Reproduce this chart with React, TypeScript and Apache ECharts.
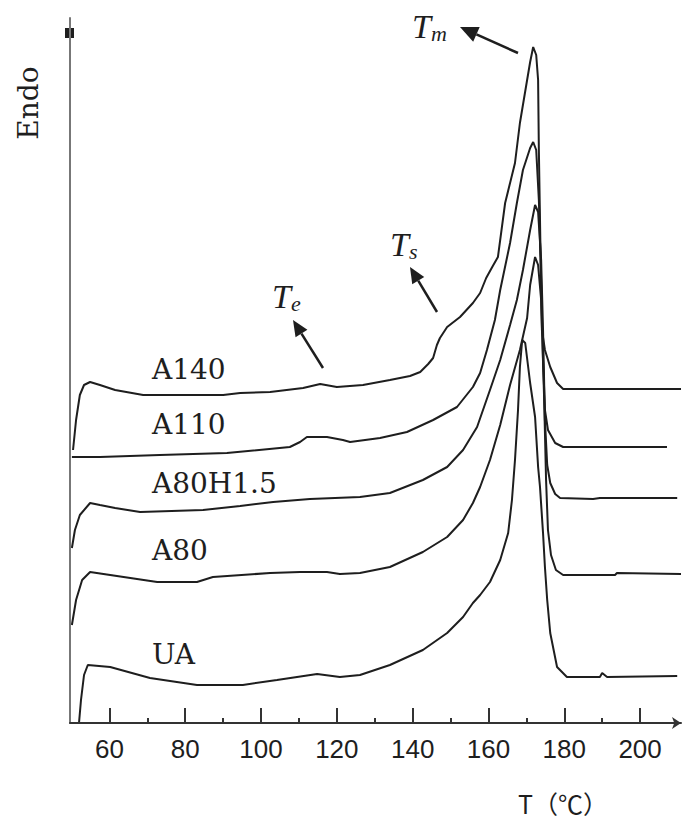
import React, { useEffect, useRef } from "react";
import * as echarts from "echarts";

// Temperature (°C) and heat flow (arbitrary units, endo up) for each DSC trace
const T_A140 = [50.4, 51.2, 52.2, 53.3, 54.9, 57.5, 61.5, 68.9, 78.6, 90.0, 94.5, 102.4, 111.1, 115.6, 120.0, 126.9, 134.0, 139.3, 142.0, 144.1, 145.4, 146.4, 147.2, 149.1, 152.5, 155.9, 157.8, 159.4, 161.0, 162.5, 164.4, 167.0, 168.3, 170.2, 171.0, 171.8, 172.6, 173.1, 173.3, 173.6, 173.9, 174.1, 174.9, 176.3, 178.1, 179.7, 210.8];
const Y_A140 = [273, 303, 328, 338, 341, 338, 333, 328, 328, 328, 330, 331, 335, 339, 336, 338, 343, 347, 351, 359, 365, 378, 385, 396, 406, 420, 430, 445, 456, 466, 520, 560, 600, 643, 661, 676, 668, 643, 573, 503, 433, 393, 373, 356, 340, 334, 334];

const T_A110 = [50.1, 57.5, 73.3, 91.0, 107.6, 110.3, 112.1, 117.4, 121.6, 123.5, 131.4, 138.5, 145.4, 151.7, 155.9, 157.8, 159.6, 161.7, 163.1, 165.7, 167.5, 169.1, 171.0, 171.8, 172.6, 173.3, 173.9, 174.4, 174.9, 175.7, 177.6, 179.7, 207.1];
const Y_A110 = [266, 266, 268, 270, 276, 281, 286, 286, 283, 281, 285, 291, 303, 316, 336, 350, 373, 403, 433, 480, 520, 553, 575, 581, 573, 523, 443, 363, 313, 293, 280, 276, 276];

const T_A80H15 = [50.1, 50.9, 52.2, 54.9, 57.5, 61.5, 68.1, 84.7, 94.5, 103.2, 112.9, 126.1, 134.0, 142.7, 149.1, 153.3, 157.0, 160.4, 163.1, 165.7, 167.5, 169.1, 171.0, 172.3, 173.1, 173.9, 174.4, 174.9, 175.5, 176.3, 177.6, 178.9, 187.6, 189.4, 209.8];
const Y_A80H15 = [175, 193, 208, 220, 218, 215, 211, 213, 217, 221, 224, 226, 230, 243, 256, 273, 296, 333, 363, 398, 423, 453, 493, 518, 511, 463, 393, 303, 258, 240, 229, 225, 224, 225, 225];

const T_A80 = [50.1, 51.2, 52.8, 54.9, 60.2, 72.6, 83.1, 87.3, 102.4, 110.3, 117.4, 120.8, 126.1, 134.0, 142.7, 149.1, 153.3, 155.9, 157.8, 160.4, 163.1, 165.7, 168.3, 170.2, 171.0, 172.3, 173.1, 173.9, 174.7, 175.2, 175.7, 176.5, 177.8, 179.7, 193.4, 193.9, 210.8];
const Y_A80 = [98, 123, 143, 151, 148, 141, 141, 146, 150, 151, 151, 149, 150, 156, 171, 186, 203, 220, 236, 263, 298, 338, 373, 405, 438, 466, 458, 423, 323, 243, 193, 168, 153, 148, 148, 150, 149];

const T_UA = [52.0, 52.5, 53.3, 54.3, 60.2, 70.7, 83.1, 95.2, 104.2, 114.8, 120.8, 126.1, 134.0, 142.7, 149.1, 153.3, 155.9, 157.8, 160.4, 163.1, 165.2, 166.2, 167.0, 167.8, 168.3, 168.9, 169.7, 171.0, 172.3, 173.1, 173.6, 174.4, 174.9, 175.5, 176.3, 178.1, 180.7, 189.4, 190.0, 191.3, 209.8];
const Y_UA = [1, 23, 48, 58, 56, 45, 38, 38, 43, 49, 46, 48, 58, 73, 90, 106, 120, 128, 141, 163, 190, 223, 263, 313, 356, 383, 380, 340, 306, 256, 236, 190, 156, 123, 90, 56, 46, 46, 50, 46, 47];

const SERIES_NAMES = ["A140", "A110", "A80H1.5", "A80", "UA"];
const SERIES_T = [T_A140, T_A110, T_A80H15, T_A80, T_UA];
const SERIES_Y = [Y_A140, Y_A110, Y_A80H15, Y_A80, Y_UA];

const MAJOR_TICKS = [60, 80, 100, 120, 140, 160, 180, 200];
const MINOR_TICKS = [70, 90, 110, 130, 150, 170, 190];

const X_MIN = 49.6;
const X_MAX = 210.8;
const Y_MIN = 0;
const Y_MAX = 705;

const INK = "#1e1e1e";
const SERIF = "'DejaVu Serif', 'Liberation Serif', serif";
const ITALIC_SERIF = "'Liberation Serif', 'DejaVu Serif', serif";

function arrow(tail: number[], tip: number[], headLen: number, halfW: number) {
  const dx = tip[0] - tail[0];
  const dy = tip[1] - tail[1];
  const len = Math.sqrt(dx * dx + dy * dy);
  const ux = dx / len;
  const uy = dy / len;
  const bx = tip[0] - headLen * ux;
  const by = tip[1] - headLen * uy;
  const nx = -uy;
  const ny = ux;
  return [
    {
      type: "line",
      shape: { x1: tail[0], y1: tail[1], x2: bx, y2: by },
      style: { stroke: INK, lineWidth: 2.5 },
    },
    {
      type: "polygon",
      shape: {
        points: [
          [tip[0], tip[1]],
          [bx + halfW * nx, by + halfW * ny],
          [bx - halfW * nx, by - halfW * ny],
        ],
      },
      style: { fill: INK },
    },
  ];
}

function tLabel(x: number, y: number, sub: string) {
  return {
    type: "text",
    x,
    y,
    style: {
      text: "{t|T}{s|" + sub + "}",
      rich: {
        t: { fontFamily: ITALIC_SERIF, fontStyle: "italic", fontSize: 34, fill: INK },
        s: { fontFamily: ITALIC_SERIF, fontStyle: "italic", fontSize: 22, fill: INK, padding: [14, 0, 0, 0] },
      },
      verticalAlign: "middle",
    },
  };
}

export default function App() {
  const ref = useRef<HTMLDivElement>(null);

  useEffect(() => {
    if (!ref.current) return;
    const chart = echarts.init(ref.current, null, { renderer: "svg" });

    const series = SERIES_NAMES.map((name, i) => ({
      name,
      type: "line",
      xAxisIndex: 0,
      yAxisIndex: 0,
      data: SERIES_T[i].map((t, j) => [t, SERIES_Y[i][j]]),
      showSymbol: false,
      symbol: "none",
      lineStyle: { color: INK, width: 2 },
      silent: true,
    }));

    const labelPos = [
      [152, 369],
      [152, 424],
      [152, 483],
      [152, 550],
      [152, 654],
    ];

    const graphics: any[] = [
      {
        type: "text",
        x: 28,
        y: 103,
        rotation: Math.PI / 2,
        style: {
          text: "Endo",
          fontFamily: SERIF,
          fontSize: 28,
          fill: INK,
          align: "center",
          verticalAlign: "middle",
        },
      },
      {
        type: "rect",
        shape: { x: 65, y: 28, width: 9, height: 10 },
        style: { fill: INK },
      },
      {
        type: "text",
        x: 563,
        y: 803,
        style: {
          text: "T（℃）",
          fontFamily: "'Noto Sans CJK SC', 'DejaVu Sans', sans-serif",
          fontSize: 25,
          fill: INK,
          align: "center",
          verticalAlign: "middle",
        },
      },
      ...SERIES_NAMES.map((n, i) => ({
        type: "text",
        x: labelPos[i][0],
        y: labelPos[i][1],
        style: {
          text: n,
          fontFamily: SERIF,
          fontSize: 28,
          fill: INK,
          align: "left",
          verticalAlign: "middle",
        },
      })),
      tLabel(272, 296, "e"),
      tLabel(390, 244, "s"),
      tLabel(412, 26, "m"),
      ...arrow([323, 368], [293, 320], 16, 7),
      ...arrow([437, 312], [410, 267], 16, 7),
      ...arrow([518, 53], [460, 27], 18, 8),
    ];

    chart.setOption({
      animation: false,
      backgroundColor: "#ffffff",
      grid: { left: 70, right: 3, top: 18, bottom: 101, containLabel: false },
      xAxis: [
        {
          type: "value",
          min: X_MIN,
          max: X_MAX,
          position: "bottom",
          axisLine: {
            show: true,
            onZero: false,
            lineStyle: { color: "#333", width: 2 },
            symbol: ["none", "arrow"],
            symbolSize: [9, 9],
          },
          axisTick: {
            show: true,
            inside: true,
            length: 15,
            customValues: MAJOR_TICKS,
            lineStyle: { color: "#333", width: 2 },
          },
          axisLabel: {
            show: true,
            customValues: MAJOR_TICKS,
            margin: 13,
            fontFamily: "'Liberation Sans Narrow', 'Liberation Sans', Arial, sans-serif",
            fontSize: 26,
            color: INK,
          },
          splitLine: { show: false },
        },
        {
          type: "value",
          min: X_MIN,
          max: X_MAX,
          position: "bottom",
          axisLine: { show: false, onZero: false },
          axisTick: {
            show: true,
            inside: true,
            length: 5,
            customValues: MINOR_TICKS,
            lineStyle: { color: "#333", width: 2 },
          },
          axisLabel: { show: false },
          splitLine: { show: false },
        },
      ],
      yAxis: {
        type: "value",
        min: Y_MIN,
        max: Y_MAX,
        axisLine: { show: true, onZero: false, lineStyle: { color: "#777", width: 2 } },
        axisTick: { show: false },
        axisLabel: { show: false },
        splitLine: { show: false },
      },
      series,
      graphic: graphics,
    });

    return () => chart.dispose();
  }, []);

  return (
    <div
      ref={ref}
      style={{ position: "absolute", left: 0, top: 0, width: 684, height: 824, background: "#fff" }}
    />
  );
}
